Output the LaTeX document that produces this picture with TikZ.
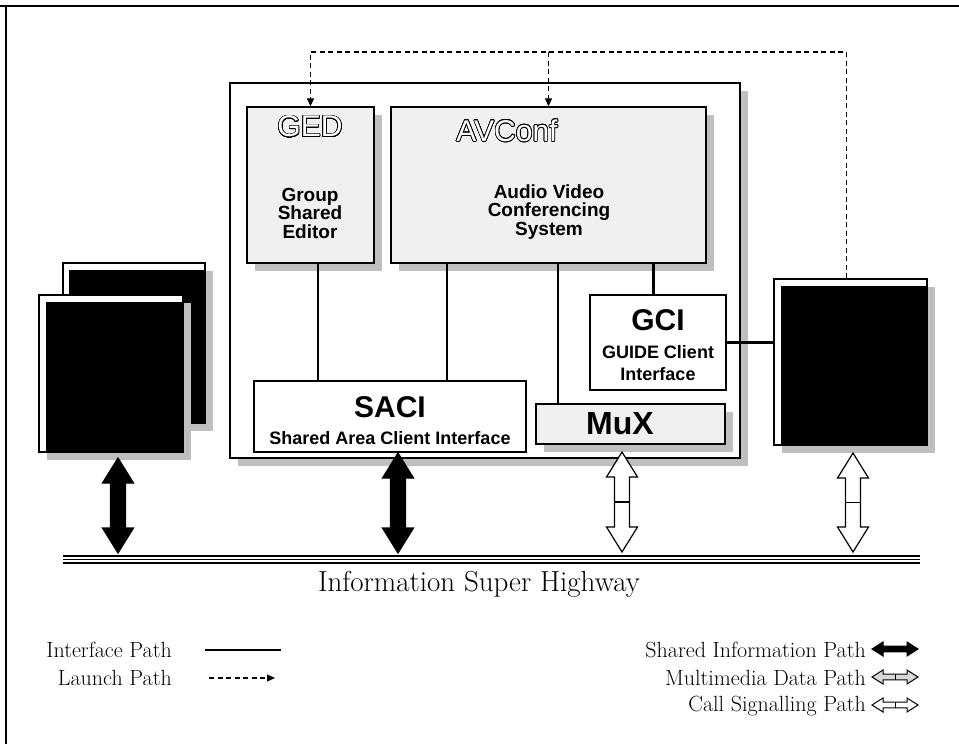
\documentclass[tikz,border=0pt]{standalone}
\usepackage{fontspec}
\usepackage{contour}
\newfontfamily\boxfont{Liberation Sans}
\usetikzlibrary{arrows.meta, calc, shadows}
\contourlength{0.7pt}
\contournumber{24}

% sizes of the fat double arrows (half shaft, half head, head length)
\def\arrw{7.5}
\def\arrh{15.5}
\def\arrl{25}

\newcommand{\vdblarrow}[3][white]{%
  \draw[line width=1.2pt, fill=#1, line join=miter]
    (#2) -- ++(\arrh,\arrl) -- ++(-\arrh+\arrw,0)
    -- ($(#3)+(\arrw,-\arrl)$) -- ++(\arrh-\arrw,0) -- (#3)
    -- ++(-\arrh,-\arrl) -- ++(\arrh-\arrw,0)
    -- ($(#2)+(-\arrw,\arrl)$) -- ++(-\arrh+\arrw,0) -- cycle;}
\newcommand{\hdblarrow}[3][white]{%
  \draw[line width=1pt, fill=#1, line join=miter]
    (#2) -- ++(\arrl,-\arrh) -- ++(0,\arrh-\arrw)
    -- ($(#3)+(-\arrl,-\arrw)$) -- ++(0,-\arrh+\arrw) -- (#3)
    -- ++(-\arrl,\arrh) -- ++(0,-\arrh+\arrw)
    -- ($(#2)+(\arrl,\arrw)$) -- ++(0,\arrh-\arrw) -- cycle;}
\newcommand{\vcrossbar}[2]{\draw[line width=1.2pt] ($(#1)!0.5!(#2)+(-\arrw,0)$) -- ++({2*\arrw},0);}
\newcommand{\hcrossbar}[2]{\draw[line width=1pt] ($(#1)!0.5!(#2)+(0,-\arrw)$) -- ++(0,{2*\arrw});}

\begin{document}
\begin{tikzpicture}[
    x=1pt, y=-1pt,
    every node/.style={inner sep=0pt},
    sysbox/.style={draw, line width=1.3pt, fill=white},
    shaded/.style={drop shadow={shadow xshift=8pt, shadow yshift=-8pt, fill=gray!50, opacity=1}},
    appbox/.style={sysbox, fill=gray!12, shaded},
    winbox/.style={draw, line width=1.2pt, fill=white, shaded},
    iface/.style={line width=2.3pt},
    launch/.style={line width=1.1pt, dash pattern=on 5pt off 3.5pt, -{Triangle[length=8pt, width=7pt]}},
    outl/.style={font=\boxfont\fontsize{30}{32}\selectfont, text=white},
    bigname/.style={font=\boxfont\bfseries\fontsize{30}{32}\selectfont},
    subname/.style={font=\boxfont\bfseries\fontsize{18}{22}\selectfont, align=center},
    appname/.style={font=\boxfont\bfseries\fontsize{19}{18.5}\selectfont, align=center},
    legend/.style={font=\fontsize{22}{24}\selectfont, anchor=east},
  ]

  % Background and frame
  \useasboundingbox (0,0) rectangle (959,744);
  \fill[white] (0,0) rectangle (959,744);
  \draw[line width=1.2pt] (0,6) -- (959,6);
  \draw[line width=1.2pt] (6,6) -- (6,744);

  % === Workstation ===
  \node[sysbox, shaded, minimum width=510pt, minimum height=375pt] (sys) at (485,270.5) {};

  \node[appbox, minimum width=127pt, minimum height=156pt] (ged) at (310.5,185) {};
  \node[appbox, minimum width=315pt, minimum height=156pt] (av) at (548.5,185) {};
  \node[sysbox, minimum width=272pt, minimum height=71pt] (saci) at (390,416.5) {};
  \node[sysbox, minimum width=136pt, minimum height=95pt] (gci) at (658,342.5) {};
  \node[appbox, minimum width=189pt, minimum height=40pt] (mux) at (630.5,424) {};

  % Box labels
  \node[outl] (gedname) at (310,127) {\contour{black}{GED}};
  \node[appname] (geddesc) at (310,213) {Group\\Shared\\Editor};
  \node[outl] (avname) at (507,131) {\contour{black}{AVConf}};
  \node[appname] (avdesc) at (549,212) {Audio Video\\Conferencing\\System};
  \node[bigname] (saciname) at (390,407) {SACI};
  \node[subname] (sacidesc) at (390,438) {Shared Area Client Interface};
  \node[bigname] (gciname) at (658,320) {GCI};
  \node[subname] (gcidesc) at (658,363) {GUIDE Client\\Interface};
  \node[bigname, font=\boxfont\bfseries\fontsize{32}{34}\selectfont] (muxname) at (620,424) {MuX};

  % === Remote screens ===
  \node[winbox, minimum width=142pt, minimum height=160pt] (lback) at (134,343) {};
  \fill ([shift={(7,8)}]lback.north west) rectangle (lback.south east);
  \node[winbox, minimum width=144pt, minimum height=157pt] (lfront) at (111,373.5) {};
  \fill ([shift={(8,8)}]lfront.north west) rectangle (lfront.south east);
  \node[winbox, minimum width=153pt, minimum height=166pt] (rwin) at (850.5,362) {};
  \fill ([shift={(8,8)}]rwin.north west) rectangle (rwin.south east);

  % Interface paths
  \draw[iface] ([xshift=7.5pt]ged.south) -- ([xshift=7.5pt]ged.south |- saci.north);
  \draw[iface] ([xshift=-101.5pt]av.south) -- ([xshift=-101.5pt]av.south |- saci.north);
  \draw[line width=1.5pt] ([xshift=9.5pt]av.south) -- ([xshift=9.5pt]av.south |- mux.north);
  \draw[line width=3pt] ([xshift=104.5pt]av.south) -- ([xshift=104.5pt]av.south |- gci.north);
  \draw[iface] (gci.east) -- (gci.east -| rwin.west);

  % Launch paths
  \coordinate (lhigh) at (0,52);
  \draw[launch] ([xshift=-4pt]rwin.north) -- ([xshift=-4pt]rwin.north |- lhigh) -| (ged.north);
  \draw[launch] (av.north |- lhigh) -- (av.north);

  % === Information Super Highway ===
  \coordinate (hwyL) at (63,559.5);
  \coordinate (hwyR) at (920,559.5);
  \foreach \dy in {-3.5,0,3.5}
    \draw[line width=1.3pt] ([yshift=\dy pt]hwyL) -- ([yshift=\dy pt]hwyR);
  \node[font=\fontsize{29}{31}\selectfont] (hwyname) at (479,584) {Information Super Highway};

  % Shared information and call signalling paths
  \coordinate (a1t) at (118,458); \coordinate (a1b) at (118,553);
  \coordinate (a2t) at (398,453); \coordinate (a2b) at (398,553);
  \coordinate (a3t) at (622,452); \coordinate (a3b) at (622,552);
  \coordinate (a4t) at (853,453); \coordinate (a4b) at (853,552);
  \vdblarrow[black]{a1t}{a1b}
  \vdblarrow[black]{a2t}{a2b}
  \vdblarrow{a3t}{a3b} \vcrossbar{a3t}{a3b}
  \vdblarrow{a4t}{a4b} \vcrossbar{a4t}{a4b}

  % === Legend ===
  \node[legend] (lgiface) at (172,650) {Interface Path};
  \draw[iface] ([xshift=33pt]lgiface.east) -- ++(76,0);
  \node[legend] (lglaunch) at (172,678) {Launch Path};
  \draw[launch] ([xshift=37pt]lglaunch.east) -- ++(66,0);

  \node[legend] (lgshared) at (866,650) {Shared Information Path};
  \node[legend] (lgmedia) at (866,678) {Multimedia Data Path};
  \node[legend] (lgcall) at (866,706) {Call Signalling Path};
  \begin{scope}
    \def\arrw{2.8}\def\arrh{7}\def\arrl{11}
    \coordinate (s1) at ($(lgshared.east)+(6,-1)$); \coordinate (s2) at ($(s1)+(46,0)$);
    \coordinate (m1) at ($(lgmedia.east)+(6,-1)$); \coordinate (m2) at ($(m1)+(46,0)$);
    \coordinate (c1) at ($(lgcall.east)+(6,-1)$); \coordinate (c2) at ($(c1)+(46,0)$);
    \hdblarrow[black]{s1}{s2}
    \hdblarrow[gray!30]{m1}{m2} \hcrossbar{m1}{m2}
    \hdblarrow{c1}{c2} \hcrossbar{c1}{c2}
  \end{scope}

\end{tikzpicture}
\end{document}
